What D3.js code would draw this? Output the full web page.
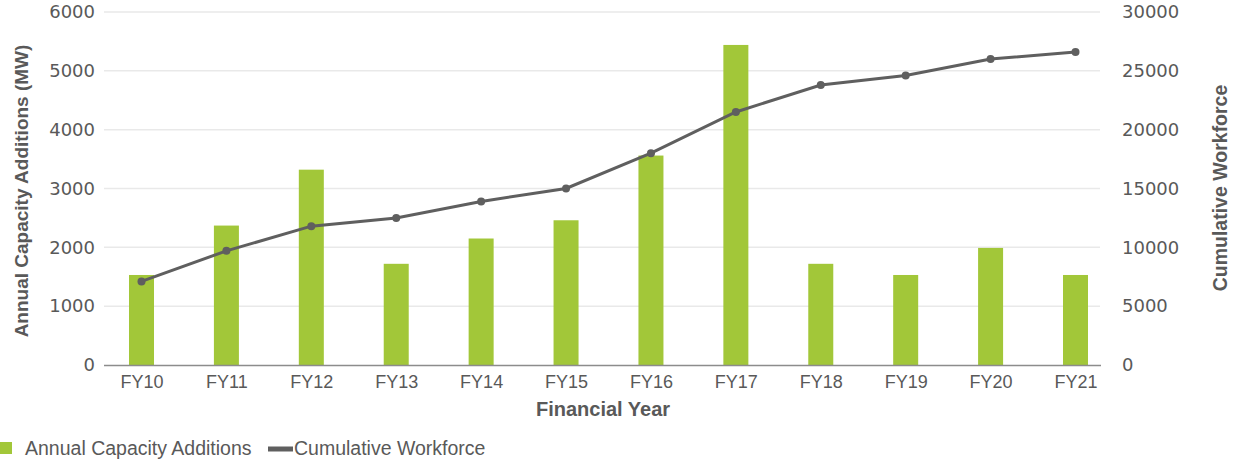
<!DOCTYPE html>
<meta charset="utf-8">
<script src="https://d3js.org/d3.v7.min.js"></script>
<style>
  body { margin: 0; background: #fff; }
  text { font-family: "Liberation Sans", Arial, sans-serif; fill: #595959; }
  .num .tick text { font-family: "DejaVu Sans", sans-serif; }
  .title { font-weight: bold; font-size: 19.5px; }
</style>
<svg id="chart" width="1237" height="463"></svg>
<script>
  // data
  var years = ["FY10", "FY11", "FY12", "FY13", "FY14", "FY15", "FY16", "FY17", "FY18", "FY19", "FY20", "FY21"];
  var capacity = [1530, 2370, 3320, 1720, 2150, 2460, 3560, 5440, 1720, 1530, 1990, 1530];
  var workforce = [7100, 9700, 11800, 12500, 13900, 15000, 18000, 21500, 23800, 24600, 26000, 26600];
  var leftTicks = [0, 1000, 2000, 3000, 4000, 5000, 6000];
  var rightTicks = [0, 5000, 10000, 15000, 20000, 25000, 30000];

  var barColor = "#a2c739";
  var lineColor = "#5f5f5f";

  var svg = d3.select("#chart");

  var plotLeft = 104, plotRight = 1100, plotTop = 12, plotBottom = 365;

  var x = d3.scalePoint().domain(years).range([141.5, 1075.5]);
  var yL = d3.scaleLinear().domain([0, 6000]).range([plotBottom, plotTop]);
  var yR = d3.scaleLinear().domain([0, 30000]).range([plotBottom, plotTop]);

  // gridlines
  svg.append("g")
    .selectAll("line")
    .data(leftTicks.slice(1))
    .join("line")
    .attr("x1", plotLeft)
    .attr("x2", plotRight)
    .attr("y1", d => yL(d))
    .attr("y2", d => yL(d))
    .attr("stroke", "#e9e9e9")
    .attr("stroke-width", 1.5);

  // bars
  var barW = 25;
  svg.append("g")
    .selectAll("rect")
    .data(capacity)
    .join("rect")
    .attr("x", (d, i) => x(years[i]) - barW / 2)
    .attr("y", d => yL(d))
    .attr("width", barW)
    .attr("height", d => plotBottom - yL(d))
    .attr("fill", barColor);

  // x axis line
  svg.append("line")
    .attr("x1", plotLeft)
    .attr("x2", plotRight + 1)
    .attr("y1", plotBottom + 0.5)
    .attr("y2", plotBottom + 0.5)
    .attr("stroke", "#8c8c8c")
    .attr("stroke-width", 1.5);

  // left axis
  var gL = svg.append("g")
    .attr("class", "num")
    .attr("transform", `translate(${plotLeft},0)`)
    .call(d3.axisLeft(yL).tickValues(leftTicks).tickSize(0).tickPadding(9).tickFormat(d3.format("d")));
  gL.select(".domain").remove();

  // right axis
  var gR = svg.append("g")
    .attr("class", "num")
    .attr("transform", `translate(${plotRight},0)`)
    .call(d3.axisRight(yR).tickValues(rightTicks).tickSize(0).tickPadding(22).tickFormat(d3.format("d")));
  gR.select(".domain").remove();

  // bottom axis
  var gB = svg.append("g")
    .attr("transform", `translate(0,${plotBottom})`)
    .call(d3.axisBottom(x).tickSize(0).tickPadding(10));
  gB.select(".domain").remove();

  svg.selectAll(".tick text").attr("fill", "#595959").style("font-size", "18px");

  // workforce line
  var line = d3.line()
    .x((d, i) => x(years[i]))
    .y(d => yR(d));

  svg.append("path")
    .datum(workforce)
    .attr("d", line)
    .attr("fill", "none")
    .attr("stroke", lineColor)
    .attr("stroke-width", 3);

  svg.append("g")
    .selectAll("circle")
    .data(workforce)
    .join("circle")
    .attr("cx", (d, i) => x(years[i]))
    .attr("cy", d => yR(d))
    .attr("r", 4)
    .attr("fill", lineColor);

  // axis titles
  svg.append("text")
    .attr("class", "title")
    .attr("transform", "translate(28,191) rotate(-90)")
    .attr("text-anchor", "middle")
    .style("font-size", "19px")
    .text("Annual Capacity Additions (MW)");

  svg.append("text")
    .attr("class", "title")
    .attr("transform", "translate(1227,188) rotate(-90)")
    .attr("text-anchor", "middle")
    .text("Cumulative Workforce");

  svg.append("text")
    .attr("class", "title")
    .attr("x", 603)
    .attr("y", 416)
    .attr("text-anchor", "middle")
    .style("font-size", "20px")
    .text("Financial Year");

  // legend
  var leg = svg.append("g");
  leg.append("rect")
    .attr("x", 0).attr("y", 442).attr("width", 12).attr("height", 12)
    .attr("fill", barColor);
  leg.append("text")
    .attr("x", 25).attr("y", 455)
    .style("font-size", "19.5px")
    .text("Annual Capacity Additions");
  leg.append("line")
    .attr("x1", 268).attr("x2", 293).attr("y1", 449).attr("y2", 449)
    .attr("stroke", lineColor).attr("stroke-width", 5);
  leg.append("text")
    .attr("x", 294).attr("y", 455)
    .style("font-size", "19.5px")
    .text("Cumulative Workforce");
</script>
